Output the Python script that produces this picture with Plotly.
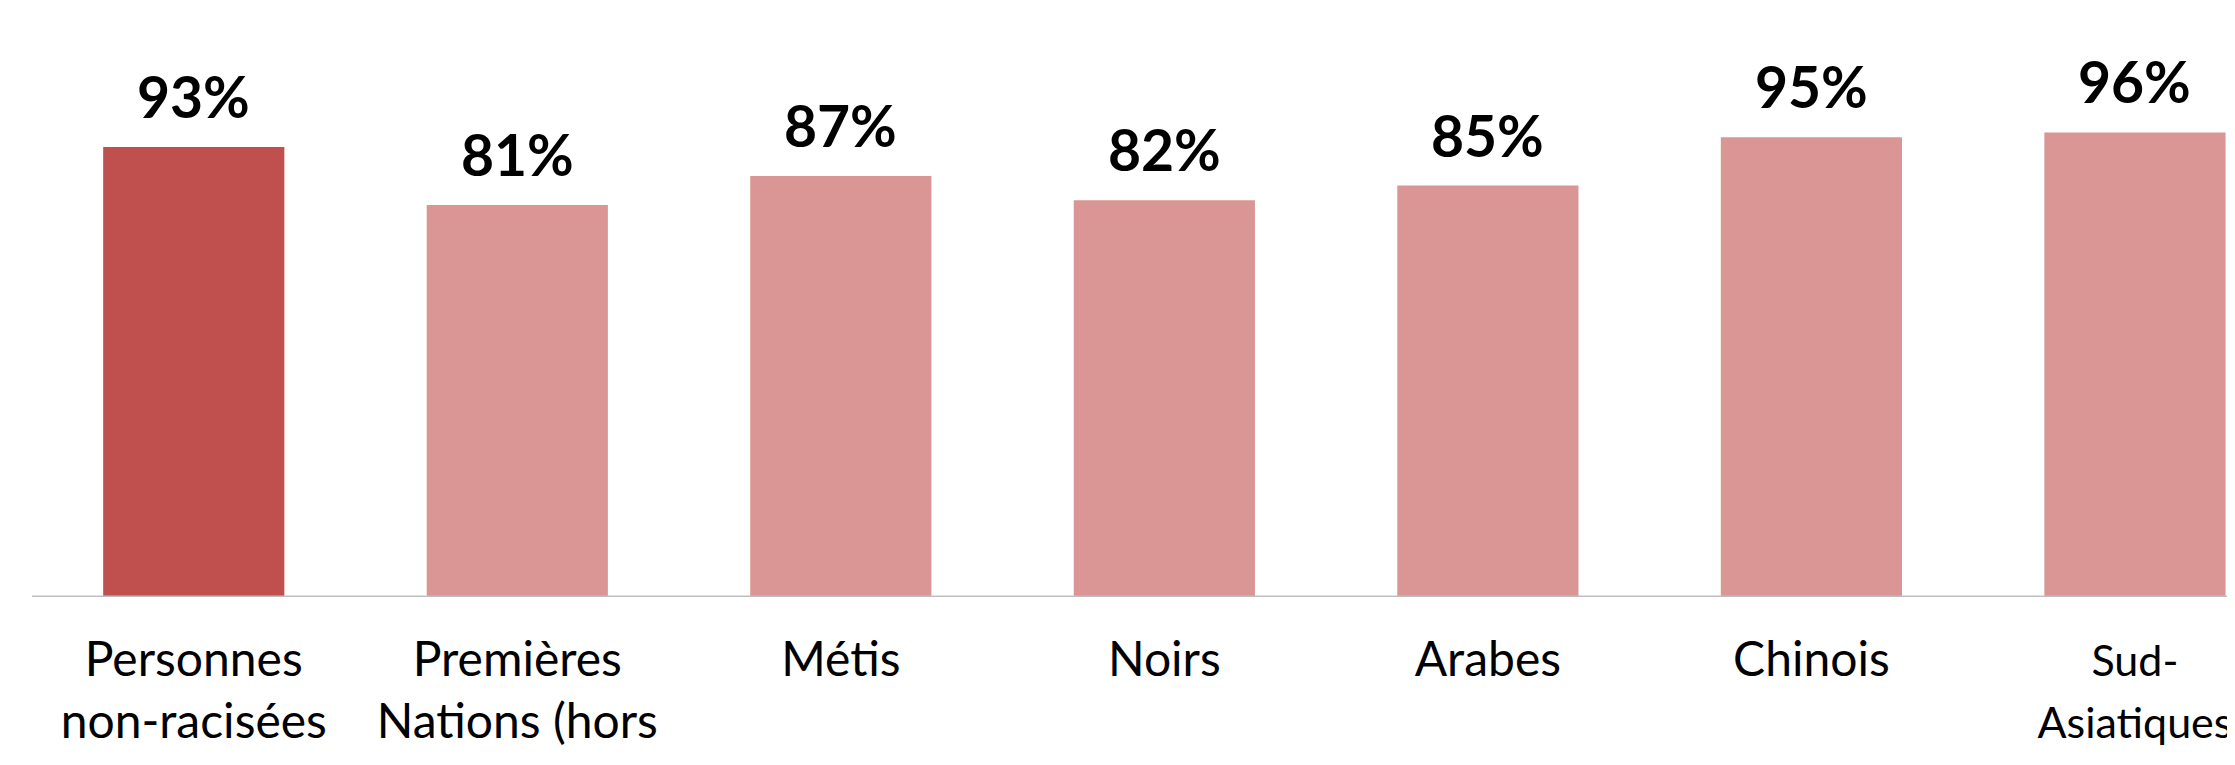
import plotly.graph_objects as go

categories = ["Personnes<br>non-racisées", "Premières<br>Nations (hors", "Métis", "Noirs",
              "Arabes", "Chinois",
              "<span style='font-size:43px'>Sud-<br>Asiatiques</span>"]
values = [93, 81, 87, 82, 85, 95, 96]
value_labels = ["93%", "81%", "87%", "82%", "85%", "95%", "96%"]
bar_colors = ["#C0504D"] + ["#D99694"] * 6

fig = go.Figure()
fig.add_trace(go.Bar(
    x=list(range(len(categories))), y=values,
    marker=dict(color=bar_colors, line=dict(width=0)),
    width=0.56, hoverinfo="skip", showlegend=False,
))
for i, (v, t) in enumerate(zip(values, value_labels)):
    fig.add_annotation(x=i, y=v, text=f"<b>{t}</b>", showarrow=False,
                       yanchor="middle", yshift=51,
                       font=dict(family="Lato", size=57, color="#000000"))

fig.update_layout(
    width=2235, height=765,
    margin=dict(l=24, r=0, t=0, b=176, autoexpand=False),
    paper_bgcolor="white", plot_bgcolor="white",
    xaxis=dict(range=[-0.5, 6.334], tickmode="array",
               tickvals=list(range(len(categories))), ticktext=categories,
               showgrid=False, zeroline=False, showline=False, ticks="",
               tickfont=dict(family="Lato", size=48, color="#000000"),
               automargin=False, ticklabelstandoff=30,
               ticklabeloverflow="allow"),
    yaxis=dict(range=[0, 121.7], visible=False, showgrid=False, zeroline=False),
    shapes=[dict(type="line", xref="paper", yref="y", x0=0, x1=1, y0=0, y1=0,
                 line=dict(color="#BFBFBF", width=3))],
)
fig.write_html("out.html")
